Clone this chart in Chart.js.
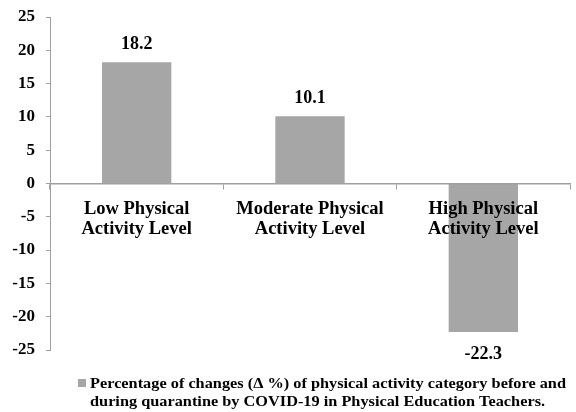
<!DOCTYPE html>
<html>
<head>
<meta charset="utf-8">
<script src="https://cdn.jsdelivr.net/npm/chart.js@4/dist/chart.umd.min.js"></script>
<style>
  html, body { margin: 0; padding: 0; background: #fff; }
  #chartContainer { width: 576px; height: 412px; }
</style>
</head>
<body>
<div id="chartContainer"><canvas id="grafico"></canvas></div>
<script>
// Dados
const categories = [
  ['Low Physical', 'Activity Level'],
  ['Moderate Physical', 'Activity Level'],
  ['High Physical', 'Activity Level']
];
const changes = [18.2, 10.1, -22.3];
const seriesLabel = [
  'Percentage of changes (\u0394 %) of physical activity category before and',
  'during quarantine by COVID-19 in Physical Education Teachers.'
];
const yMin = -25, yMax = 25, yStep = 5;

const barColor = '#a6a6a6';
const axisColor = '#a0a0a0';
const serif = "'Liberation Serif', 'Times New Roman', serif";

// valores em cima/embaixo das barras
const valueLabels = {
  id: 'valueLabels',
  afterDatasetsDraw(chart) {
    const ctx = chart.ctx;
    const meta = chart.getDatasetMeta(0);
    ctx.save();
    ctx.font = 'bold 18px ' + serif;
    ctx.fillStyle = '#000';
    ctx.textAlign = 'center';
    ctx.textBaseline = 'middle';
    meta.data.forEach((bar, i) => {
      const v = changes[i];
      const y = v >= 0 ? bar.y - 18 : bar.y + 22;
      ctx.fillText(v.toFixed(1), bar.x, y);
    });
    ctx.restore();
  }
};

// legenda em duas linhas (texto um pouco esticado na horizontal como no original)
const legendBox = {
  id: 'legendBox',
  afterDraw(chart) {
    const ctx = chart.ctx;
    ctx.save();
    ctx.fillStyle = barColor;
    ctx.fillRect(78, 379, 8, 8);
    ctx.font = 'bold 15px ' + serif;
    const sx = 476 / ctx.measureText(seriesLabel[0]).width;
    ctx.translate(90, 0);
    ctx.scale(sx, 1);
    ctx.fillStyle = '#000';
    ctx.textAlign = 'left';
    ctx.textBaseline = 'middle';
    ctx.fillText(seriesLabel[0], 0, 384);
    ctx.fillText(seriesLabel[1], 0, 402);
    ctx.restore();
  }
};

const ctx = document.getElementById('grafico').getContext('2d');
new Chart(ctx, {
  type: 'bar',
  data: {
    labels: categories,
    datasets: [{
      label: seriesLabel.join(' '),
      data: changes,
      backgroundColor: barColor,
      borderWidth: 0,
      categoryPercentage: 1,
      barPercentage: 0.4
    }]
  },
  options: {
    responsive: true,
    maintainAspectRatio: false,
    animation: false,
    layout: { padding: { top: 17, right: 6, bottom: 62, left: 0 } },
    plugins: {
      legend: { display: false },
      tooltip: { enabled: false }
    },
    scales: {
      x: {
        position: { y: 0 },
        grid: {
          drawOnChartArea: false,
          drawTicks: true,
          tickLength: 5,
          color: axisColor,
          offset: true,
          z: 1
        },
        border: { color: axisColor, width: 1.5, z: 1 },
        ticks: {
          z: 1,
          color: '#000',
          padding: 10,
          maxRotation: 0,
          autoSkip: false,
          font: { family: serif, size: 18.5, weight: 'bold', lineHeight: 1.12 }
        }
      },
      y: {
        min: yMin,
        max: yMax,
        afterFit(scale) {
          scale.width = 50;
          scale.paddingTop = 0;
          scale.paddingBottom = 0;
        },
        grid: {
          drawOnChartArea: false,
          drawTicks: true,
          tickLength: 4,
          color: axisColor
        },
        border: { color: axisColor, width: 1 },
        ticks: {
          stepSize: yStep,
          color: '#000',
          padding: 11,
          font: { family: serif, size: 17, weight: 'bold' }
        }
      }
    }
  },
  plugins: [valueLabels, legendBox]
});
</script>
</body>
</html>
